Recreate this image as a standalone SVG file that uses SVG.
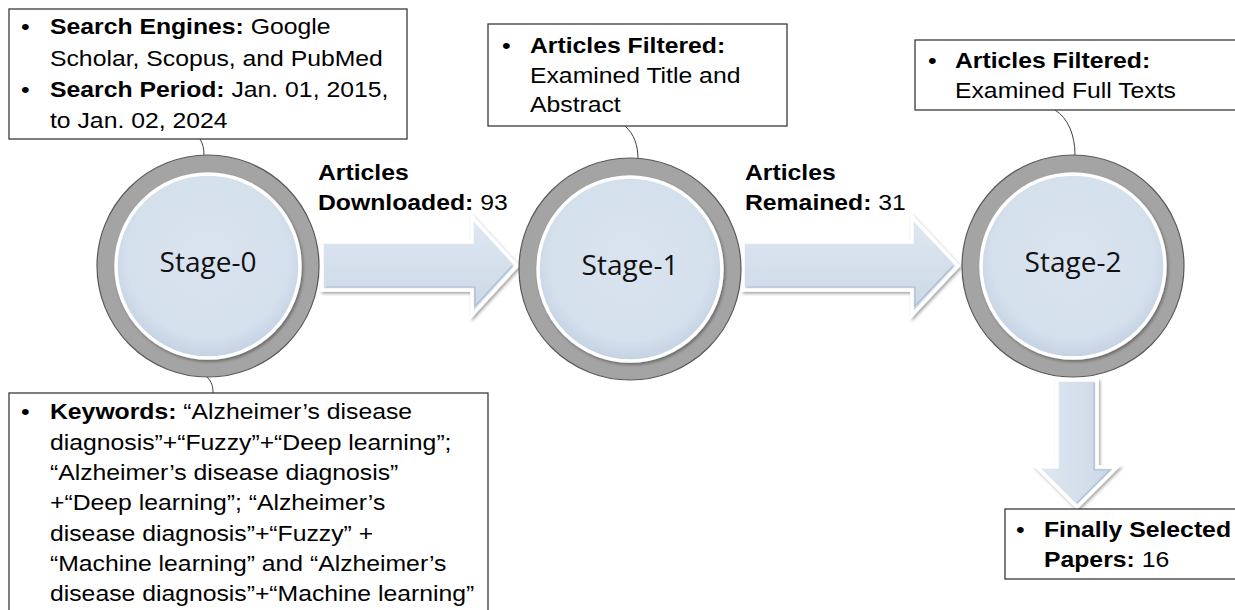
<svg xmlns="http://www.w3.org/2000/svg" width="1235" height="610" viewBox="0 0 1235 610">
<style>
.t{font-family:"Liberation Sans",Arial,sans-serif;font-size:22.5px;fill:#000}
.b{font-weight:bold}
.box{fill:#fff;stroke:#3a3a3a;stroke-width:1.3}
.ring{fill:#a4a4a4;stroke:#595959;stroke-width:1.2}
.core{fill:url(#coreG);stroke:#fff;stroke-width:3.5;filter:url(#sh)}
.lab{font-family:"Open Sans","Liberation Sans",sans-serif;font-size:28px;fill:#111;text-anchor:middle}
.arr{fill:url(#arrG);stroke:#fff;stroke-width:3.5;stroke-linejoin:miter;filter:url(#sh)}
.bev{fill:none;stroke:#aebdd2;stroke-width:1.2}
.con{fill:none;stroke:#404040;stroke-width:1}
</style>
<defs>
<radialGradient id="coreG" cx="50%" cy="45%" r="55%">
<stop offset="0" stop-color="#dae4f0"/>
<stop offset="0.8" stop-color="#d5e0ed"/>
<stop offset="1" stop-color="#c3d1e2"/>
</radialGradient>
<linearGradient id="arrG" x1="0" y1="0" x2="0" y2="1">
<stop offset="0" stop-color="#dfe8f2"/>
<stop offset="1" stop-color="#cbd7e6"/>
</linearGradient>
<linearGradient id="arrGv" x1="0" y1="0" x2="1" y2="0">
<stop offset="0" stop-color="#dfe8f2"/>
<stop offset="1" stop-color="#cbd7e6"/>
</linearGradient>
<filter id="sh" x="-20%" y="-20%" width="140%" height="140%">
<feDropShadow dx="1.5" dy="2" stdDeviation="1.6" flood-color="#000" flood-opacity="0.35"/>
</filter>
</defs>

<g id="connectors">
<path class="con" d="M200,139 C203,144 204,149 204,155"/>
<path class="con" d="M207,377 C212,382 213,387 213,393"/>
<path class="con" d="M625,126 C634,134 638,145 638,159"/>
<path class="con" d="M1055,110 C1068,118 1075,135 1075,155"/>
<g id="arrow-0-1">
<path class="arr" d="M322,242 L472,242 L472,217 L517,266 L472,315 L472,290 L322,290 Z"/>
<path class="bev" d="M326,287 L475,287 L475,306 L512,266"/>
</g>
<g id="arrow-1-2">
<path class="arr" d="M743,242 L912,242 L912,217 L958,266 L912,315 L912,290 L743,290 Z"/>
<path class="bev" d="M747,287 L915,287 L915,306 L953,266"/>
</g>
<g id="arrow-2-final">
<path class="arr" style="fill:url(#arrGv)" d="M1057,380 L1097,380 L1097,467 L1117,467 L1077,507 L1037,467 L1057,467 Z"/>
<path class="bev" d="M1094,383 L1094,470 L1110,470 L1077,503"/>
</g>
</g>

<g id="stage0">
<circle class="ring" cx="208" cy="266" r="111"/>
<circle class="core" cx="208" cy="266" r="92"/>
<text class="lab" x="208" y="272">Stage-0</text>
</g>
<g id="stage1">
<circle class="ring" cx="630" cy="269" r="111"/>
<circle class="core" cx="630" cy="269" r="92"/>
<text class="lab" x="630" y="275">Stage-1</text>
</g>
<g id="stage2">
<circle class="ring" cx="1073" cy="266" r="111"/>
<circle class="core" cx="1073" cy="266" r="92"/>
<text class="lab" x="1073" y="272">Stage-2</text>
</g>

<g id="label-downloaded">
<text class="t b" transform="translate(318 180) scale(1.1 1)">Articles</text>
<text class="t" transform="translate(318 209.5) scale(1.1 1)"><tspan class="b">Downloaded:</tspan> 93</text>
</g>
<g id="label-remained">
<text class="t b" transform="translate(745 180) scale(1.1 1)">Articles</text>
<text class="t" transform="translate(745 209.5) scale(1.1 1)"><tspan class="b">Remained:</tspan> 31</text>
</g>

<g id="box-search">
<rect class="box" x="9" y="9" width="398" height="130"/>
<text class="t" transform="translate(21 34) scale(1.1 1)">•</text>
<text class="t" transform="translate(50 34) scale(1.1 1)"><tspan class="b">Search Engines:</tspan> Google</text>
<text class="t" transform="translate(50 65.5) scale(1.1 1)">Scholar, Scopus, and PubMed</text>
<text class="t" transform="translate(21 97) scale(1.1 1)">•</text>
<text class="t" transform="translate(50 97) scale(1.1 1)"><tspan class="b">Search Period:</tspan> Jan. 01, 2015,</text>
<text class="t" transform="translate(50 128) scale(1.1 1)">to Jan. 02, 2024</text>
</g>

<g id="box-keywords">
<rect class="box" x="9" y="393" width="479" height="240"/>
<text class="t" transform="translate(21 419) scale(1.1 1)">•</text>
<text class="t" transform="translate(50 419) scale(1.1 1)"><tspan class="b">Keywords:</tspan> “Alzheimer’s disease</text>
<text class="t" transform="translate(50 449.5) scale(1.1 1)">diagnosis”+“Fuzzy”+“Deep learning”;</text>
<text class="t" transform="translate(50 480) scale(1.1 1)">“Alzheimer’s disease diagnosis”</text>
<text class="t" transform="translate(50 510) scale(1.1 1)">+“Deep learning”; “Alzheimer’s</text>
<text class="t" transform="translate(50 540.5) scale(1.1 1)">disease diagnosis”+“Fuzzy” +</text>
<text class="t" transform="translate(50 571) scale(1.1 1)">“Machine learning” and “Alzheimer’s</text>
<text class="t" transform="translate(50 601) scale(1.1 1)">disease diagnosis”+“Machine learning”</text>
</g>

<g id="box-stage1">
<rect class="box" x="488" y="24" width="299" height="102"/>
<text class="t" transform="translate(502 53) scale(1.1 1)">•</text>
<text class="t b" transform="translate(530 53) scale(1.1 1)">Articles Filtered:</text>
<text class="t" transform="translate(530 82.5) scale(1.1 1)">Examined Title and</text>
<text class="t" transform="translate(530 112) scale(1.1 1)">Abstract</text>
</g>

<g id="box-stage2">
<rect class="box" x="915" y="40" width="330" height="70"/>
<text class="t" transform="translate(928 68) scale(1.1 1)">•</text>
<text class="t b" transform="translate(955 68) scale(1.1 1)">Articles Filtered:</text>
<text class="t" transform="translate(955 98) scale(1.1 1)">Examined Full Texts</text>
</g>

<g id="box-final">
<rect class="box" x="1005" y="509" width="240" height="70"/>
<text class="t" transform="translate(1016 537) scale(1.1 1)">•</text>
<text class="t b" transform="translate(1044 537) scale(1.1 1)">Finally Selected</text>
<text class="t" transform="translate(1044 567) scale(1.1 1)"><tspan class="b">Papers:</tspan> 16</text>
</g>
</svg>
